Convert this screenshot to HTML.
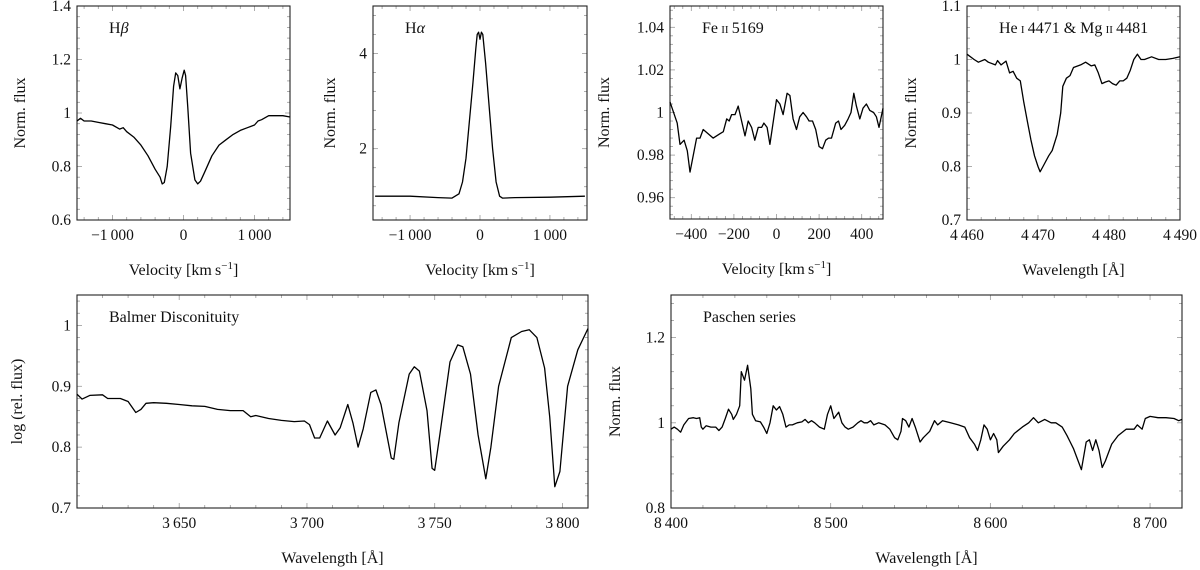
<!DOCTYPE html>
<html><head><meta charset="utf-8"><style>
html,body{margin:0;padding:0;background:#fff;overflow:hidden;}
svg{display:block;}
svg text{font-family:"Liberation Serif","Times New Roman",serif;}
</style></head><body>
<svg id="fig" width="1200" height="570" viewBox="0 0 1200 570" xmlns="http://www.w3.org/2000/svg"></svg>
<script>
// ---- Panel 1: H-beta ----
const hbVel = [-1500,-1450,-1400,-1300,-1200,-1100,-1000,-900,-850,-800,-700,-600,-500,-400,-330,-300,-270,-230,-180,-140,-110,-80,-50,-20,10,30,60,100,160,200,240,300,400,500,600,700,800,900,1000,1050,1100,1200,1300,1400,1500];
const hbFlux = [0.97,0.98,0.97,0.97,0.965,0.96,0.955,0.94,0.945,0.93,0.91,0.88,0.84,0.79,0.76,0.735,0.74,0.8,0.95,1.1,1.15,1.14,1.09,1.13,1.16,1.14,1.02,0.85,0.75,0.735,0.745,0.78,0.84,0.88,0.9,0.92,0.935,0.945,0.955,0.97,0.975,0.99,0.99,0.99,0.985];
// ---- Panel 2: H-alpha ----
const haVel = [-1500,-1000,-600,-400,-300,-250,-200,-150,-100,-60,-40,-20,0,20,40,80,130,180,230,280,320,500,1000,1500];
const haFlux = [1.0,1.0,0.97,0.96,1.05,1.3,1.8,2.6,3.4,4.1,4.4,4.45,4.3,4.45,4.4,3.8,2.9,2.0,1.3,1.0,0.96,0.97,0.98,1.0];
// ---- Panel 3: Fe II 5169 ----
const feVel = [-500,-466,-453,-434,-419,-406,-375,-359,-344,-297,-266,-250,-234,-222,-211,-195,-180,-148,-133,-117,-102,-86,-70,-59,-44,-31,0,16,31,50,63,78,94,109,125,141,153,169,184,200,216,231,244,258,278,291,303,320,336,350,363,375,391,406,422,438,456,469,481,500];
const feFlux = [1.005,0.995,0.985,0.987,0.982,0.972,0.988,0.988,0.992,0.988,0.990,0.991,0.997,0.996,0.999,0.999,1.003,0.989,0.996,0.993,0.987,0.993,0.993,0.995,0.993,0.985,1.006,1.004,0.999,1.009,1.008,0.997,0.992,0.998,1.0,0.998,0.996,0.996,0.992,0.984,0.983,0.987,0.988,0.988,0.995,0.996,0.992,0.994,0.997,1.0,1.009,1.003,0.997,1.002,1.004,1.001,1.0,0.998,0.993,1.002];
// ---- Panel 4: He I 4471 & Mg II 4481 ----
const heWave = [4460,4461,4461.6,4462.5,4463,4464,4464.3,4464.8,4465.5,4466,4466.5,4467,4467.5,4468,4468.5,4469,4469.5,4470,4470.3,4470.7,4471.5,4472,4472.7,4473.2,4473.5,4474,4474.5,4475,4476,4476.7,4477.5,4478,4478.5,4479,4479.5,4480,4480.5,4481,4481.5,4482,4482.5,4483,4483.5,4484,4484.5,4485,4486,4487,4488,4489,4490];
const heFlux = [1.01,1.0,0.995,1.0,0.995,0.99,0.998,0.99,0.997,0.975,0.978,0.965,0.96,0.92,0.885,0.85,0.82,0.8,0.79,0.8,0.82,0.83,0.86,0.9,0.95,0.965,0.97,0.985,0.99,0.995,0.988,0.99,0.975,0.955,0.958,0.96,0.955,0.952,0.96,0.96,0.965,0.98,1.0,1.01,1.0,1.0,1.005,1.0,1.0,1.002,1.005];
// ---- Panel 5: Balmer discontinuity ----
const baWave = [3610,3612,3615,3620,3622,3627,3630,3633,3635,3637,3640,3645,3650,3655,3660,3665,3670,3675,3678,3680,3685,3690,3695,3699,3701,3703,3705,3708,3711,3713,3716,3718,3720,3722,3725,3727,3729,3733,3734,3736,3740,3742,3744,3747,3749,3750,3752,3756,3759,3761,3764,3767,3770,3772,3775,3780,3784,3787,3790,3793,3795,3797,3799,3802,3806,3810];
const baFlux = [0.887,0.879,0.885,0.886,0.88,0.88,0.875,0.857,0.862,0.872,0.873,0.872,0.87,0.868,0.867,0.862,0.86,0.86,0.85,0.852,0.847,0.844,0.842,0.843,0.837,0.815,0.815,0.843,0.82,0.832,0.87,0.84,0.8,0.83,0.89,0.894,0.87,0.782,0.78,0.84,0.92,0.932,0.925,0.86,0.765,0.762,0.82,0.94,0.968,0.965,0.92,0.82,0.748,0.8,0.9,0.98,0.99,0.993,0.98,0.93,0.85,0.735,0.76,0.9,0.96,0.995];
// ---- Panel 6: Paschen series ----
const paWave = [8400,8402,8404,8406,8408,8411,8414,8416,8418,8419,8420,8422,8425,8428,8430,8432,8434,8436,8438,8439,8441,8443,8444,8446,8448,8450,8451,8453,8456,8458,8460,8462,8463,8464,8466,8468,8470,8472,8474,8476,8479,8482,8484,8486,8488,8490,8493,8496,8498,8500,8502,8505,8507,8509,8511,8514,8517,8519,8521,8523,8525,8527,8530,8534,8537,8540,8542,8544,8545,8547,8549,8551,8553,8556,8558,8562,8565,8567,8570,8575,8580,8584,8587,8590,8592,8594,8596,8598,8600,8602,8604,8605,8608,8612,8615,8620,8624,8627,8630,8634,8638,8641,8645,8648,8650,8652,8655,8657,8660,8662,8664,8666,8668,8670,8672,8676,8680,8685,8690,8692,8695,8697,8700,8705,8710,8715,8718,8720];
const paFlux = [0.985,0.99,0.985,0.978,0.995,1.01,1.012,1.01,1.012,0.99,0.985,0.993,0.99,0.99,0.982,0.99,1.01,1.032,1.02,1.008,1.02,1.04,1.12,1.1,1.135,1.08,1.02,1.005,1.002,0.99,0.975,1.0,1.02,1.04,1.03,1.038,1.02,0.99,0.995,0.995,1.0,1.002,1.008,1.0,1.005,1.0,0.99,0.985,1.02,1.04,1.01,1.025,1.0,0.99,0.985,0.99,1.0,1.005,1.0,1.0,1.005,0.995,1.0,0.995,0.985,0.965,0.96,0.98,1.01,1.005,0.99,1.01,0.99,0.955,0.965,0.98,1.005,0.995,1.005,1.0,0.995,0.99,0.965,0.95,0.935,0.96,0.995,0.985,0.96,0.975,0.96,0.93,0.945,0.96,0.975,0.99,1.0,1.012,1.0,1.008,1.0,1.0,0.99,0.97,0.955,0.94,0.91,0.89,0.955,0.96,0.935,0.96,0.935,0.895,0.91,0.95,0.97,0.985,0.985,0.995,0.985,1.01,1.015,1.012,1.012,1.01,1.005,1.008];

// tick value arrays
const hbXTicks=[-1000,0,1000], hbYTicks=[0.6,0.8,1,1.2,1.4];
const haXTicks=[-1000,0,1000], haYTicks=[2,4];
const feXTicks=[-400,-200,0,200,400], feYTicks=[0.96,0.98,1,1.02,1.04];
const heXTicks=[4460,4470,4480,4490], heYTicks=[0.7,0.8,0.9,1,1.1];
const baXTicks=[3650,3700,3750,3800], baYTicks=[0.7,0.8,0.9,1];
const paXTicks=[8400,8500,8600,8700], paYTicks=[0.8,1,1.2];

const NS="http://www.w3.org/2000/svg";
const svg=document.getElementById('fig');
function mk(tag,attrs,parent){const e=document.createElementNS(NS,tag);for(const k in attrs)e.setAttribute(k,attrs[k]);(parent||svg).appendChild(e);return e;}
function fmt(v){
  let s=(Math.round(v*1000)/1000).toString();
  let neg=s[0]==='-'; if(neg)s=s.slice(1);
  let [ip,fp]=s.split('.');
  if(ip.length>=4) ip=ip.slice(0,ip.length-3)+'\u2009'+ip.slice(ip.length-3);
  return (neg?'\u2212':'')+ip+(fp?'.'+fp:'');
}
const FF='Liberation Serif, serif';
function panel(p){
  const g=mk('g',{});
  
  
  const sx=v=>p.L+(v-p.x0)/(p.x1-p.x0)*(p.R-p.L);
  const sy=v=>p.B-(v-p.y0)/(p.y1-p.y0)*(p.B-p.T);
  const ticks=mk('g',{stroke:'#999','stroke-width':0.8},g);
  
  
  const xs=p.xStep/5, ys=p.yStep/5;
  for(let v=Math.ceil(p.x0/xs-1e-6)*xs; v<=p.x1+1e-6; v+=xs){
    const X=sx(v); const maj=Math.abs(v/p.xStep-Math.round(v/p.xStep))<1e-6; const l=maj?5:3;
    mk('line',{x1:X,x2:X,y1:p.B,y2:p.B-l},ticks); mk('line',{x1:X,x2:X,y1:p.T,y2:p.T+l},ticks);
  }
  for(let v=Math.ceil(p.y0/ys-1e-6)*ys; v<=p.y1+1e-6; v+=ys){
    const Y=sy(v); const maj=Math.abs(v/p.yStep-Math.round(v/p.yStep))<1e-6; const l=maj?5:3;
    mk('line',{x1:p.L,x2:p.L+l,y1:Y,y2:Y},ticks); mk('line',{x1:p.R,x2:p.R-l,y1:Y,y2:Y},ticks);
  }
  const fr=mk('rect',{x:p.L,y:p.T,width:p.R-p.L,height:p.B-p.T,fill:'none',stroke:'#222','stroke-width':1.1},g);
  
  
  p.xt.forEach(v=>{
    const t=mk('text',{x:sx(v),y:p.B+20,'font-size':15.5,'font-family':FF,'text-anchor':'middle',fill:'#111'},g);
    t.textContent=fmt(v);
    
    
  });
  p.yt.forEach(v=>{
    const t=mk('text',{x:p.L-6,y:sy(v)+5,'font-size':15.5,'font-family':FF,'text-anchor':'end',fill:'#111'},g);
    t.textContent=fmt(v);
    
    
  });
  const xt=mk('text',{x:(p.L+p.R)/2,y:p.B+55,'font-size':16,'font-family':FF,'text-anchor':'middle',fill:'#111'},g);
  xt.innerHTML=p.xlab;
  
  
  const yt=mk('text',{x:0,y:0,'font-size':16,'font-family':FF,'text-anchor':'middle',fill:'#111',transform:`translate(${p.ylx},${(p.T+p.B)/2}) rotate(-90)`},g);
  yt.textContent=p.ylab;
  
  
  const ti=mk('text',{x:p.L+32,y:p.T+27,'font-size':16,'font-family':FF,fill:'#111'},g);
  ti.innerHTML=p.title;
  
  
  const d=p.xd.map((v,i)=>(i?'L':'M')+sx(v).toFixed(1)+','+sy(p.yd[i]).toFixed(1)).join('');
  const ln=mk('path',{d:d,fill:'none',stroke:'#000','stroke-width':1.3,'stroke-linejoin':'round'},g);
  
  
}
const vel='Velocity [km\u2009s<tspan dy="-6" font-size="11">\u22121</tspan><tspan dy="6">]</tspan>';
const wav='Wavelength [Å]';
const sc=s=>`<tspan font-size="11">${s}</tspan>`;
panel({name:'hbeta-panel',L:77,R:290,T:6,B:220,x0:-1500,x1:1500,y0:0.6,y1:1.4,xStep:1000,yStep:0.2,xt:hbXTicks,yt:hbYTicks,xd:hbVel,yd:hbFlux,xlab:vel,ylab:'Norm. flux',ylx:25,title:'H<tspan font-style="italic">β</tspan>'});
panel({name:'halpha-panel',L:373,R:587,T:6,B:220,x0:-1530,x1:1530,y0:0.5,y1:5,xStep:1000,yStep:2,xt:haXTicks,yt:haYTicks,xd:haVel,yd:haFlux,xlab:vel,ylab:'Norm. flux',ylx:335,title:'H<tspan font-style="italic">α</tspan>'});
panel({name:'fe-ii-panel',L:670,R:883,T:6,B:219,x0:-500,x1:500,y0:0.95,y1:1.05,xStep:200,yStep:0.02,xt:feXTicks,yt:feYTicks,xd:feVel,yd:feFlux,xlab:vel,ylab:'Norm. flux',ylx:609,title:'Fe\u2009'+sc('II')+'\u20095169'});
panel({name:'he-mg-panel',L:967,R:1180,T:6,B:220,x0:4460,x1:4490,y0:0.7,y1:1.1,xStep:10,yStep:0.1,xt:heXTicks,yt:heYTicks,xd:heWave,yd:heFlux,xlab:wav,ylab:'Norm. flux',ylx:916,title:'He\u2009'+sc('I')+'\u20094471 &amp; Mg\u2009'+sc('II')+'\u20094481'});
panel({name:'balmer-panel',L:77,R:588,T:295,B:508,x0:3610,x1:3810,y0:0.7,y1:1.05,xStep:50,yStep:0.1,xt:baXTicks,yt:baYTicks,xd:baWave,yd:baFlux,xlab:wav,ylab:'log (rel. flux)',ylx:22,title:'Balmer Disconituity'});
panel({name:'paschen-panel',L:671,R:1182,T:295,B:508,x0:8400,x1:8720,y0:0.8,y1:1.3,xStep:100,yStep:0.2,xt:paXTicks,yt:paYTicks,xd:paWave,yd:paFlux,xlab:wav,ylab:'Norm. flux',ylx:620,title:'Paschen series'});
</script>
</body></html>
